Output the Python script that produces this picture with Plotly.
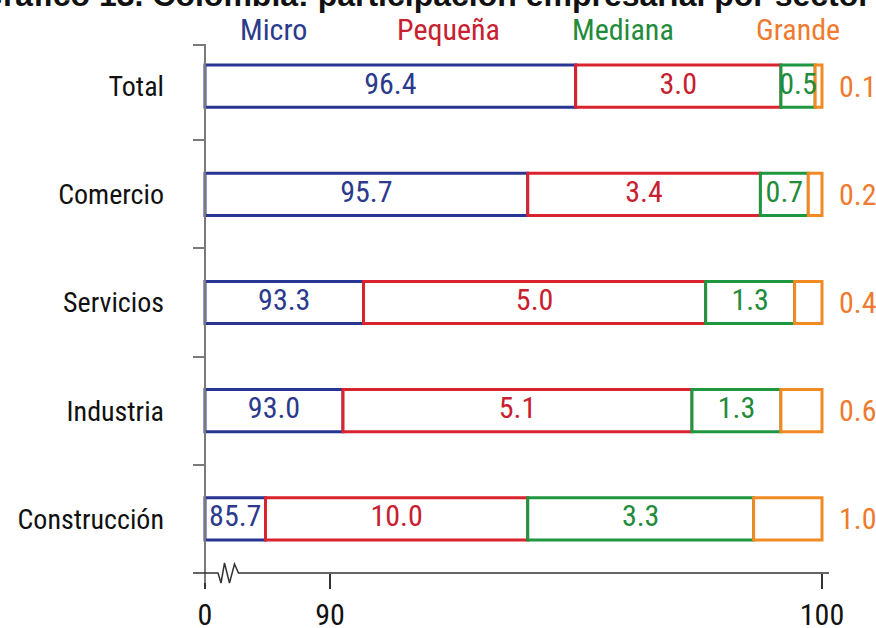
import numpy as np
import plotly.graph_objects as go

# ---- data -------------------------------------------------------------
sectors = ["Total", "Comercio", "Servicios", "Industria", "Construcción"]
micro = [96.4, 95.7, 93.3, 93.0, 85.7]
pequena = [3.0, 3.4, 5.0, 5.1, 10.0]
mediana = [0.5, 0.7, 1.3, 1.3, 3.3]
grande = [0.1, 0.2, 0.4, 0.6, 1.0]

size_names = ["Micro", "Pequeña", "Mediana", "Grande"]
tick_values = [0, 90, 100]
tick_labels = ["0", "90", "100"]

# ---- styling ------------------------------------------------------------
line_colors = ["#283593", "#D9232E", "#1F9640", "#F28A24"]
text_colors = ["#2B3A8C", "#C8202F", "#228B3B", "#EE7B30"]
FONT = "Liberation Sans Narrow, Arial Narrow, Roboto Condensed, sans-serif"
AX_GRAY = "#7a7a7a"

# Broken value axis: the span 0-90 is compressed, 93-100 is stretched.
BREAK_VALS = [0, 85, 90, 93, 100]
BREAK_POS = [0, 50, 125, 138, 617]


def scale(v):
    return np.interp(v, BREAK_VALS, BREAK_POS)


X_RANGE = [-12, 624]
W, H = 876, 628
ML, MR, MT, MB = 193, 47, 32, 55
PW, PH = W - ML - MR, H - MT - MB


def px_x(p):
    """pixel column -> paper x"""
    return (p - ML) / PW


def px_y(p):
    """pixel row -> paper y"""
    return (H - MB - p) / PH


series = [micro, pequena, mediana, grande]
ypos = list(range(len(sectors)))

fig = go.Figure()

start = np.zeros(len(sectors))
segments = []
for name, vals, lc in zip(size_names, series, line_colors):
    vals = np.array(vals)
    end = start + vals
    b = scale(start)
    e = scale(end)
    fig.add_trace(go.Bar(
        y=ypos, x=e - b, base=b, orientation="h", name=name,
        width=0.39,
        marker=dict(color="white", line=dict(color=lc, width=3)),
        hoverinfo="skip", showlegend=False,
    ))
    segments.append((b, e, vals))
    start = end

# value labels: first three sizes inside their segment, "Grande" to the right
for k, ((b, e, vals), tc) in enumerate(zip(segments, text_colors)):
    if k < 3:
        fig.add_trace(go.Scatter(
            x=(b + e) / 2, y=ypos, mode="text",
            text=[f"{v:.1f}" for v in vals],
            textfont=dict(family=FONT, size=30, color=tc),
            textposition="middle center",
            hoverinfo="skip", showlegend=False,
        ))
    else:
        for i, v in enumerate(vals):
            fig.add_annotation(
                x=scale(100), y=i, xref="x", yref="y",
                text=f"{v:.1f}", showarrow=False,
                xanchor="left", yanchor="middle", xshift=15,
                font=dict(family=FONT, size=30, color=tc),
            )

# legend row across the top
legend_x = [273, 448, 623, 798]
for name, tc, lx in zip(size_names, text_colors, legend_x):
    fig.add_annotation(
        x=px_x(lx), y=px_y(30), xref="paper", yref="paper",
        text=name, showarrow=False, xanchor="center", yanchor="middle",
        font=dict(family=FONT, size=30, color=tc),
    )

# heading (runs past the top edge of the page)
fig.add_annotation(
    x=px_x(-24), y=px_y(-5), xref="paper", yref="paper",
    text="<b>Gráfico 13. Colombia: participación empresarial por sector (%)</b>",
    showarrow=False, xanchor="left", yanchor="middle",
    font=dict(family="Liberation Sans, Arial, sans-serif", size=32, color="#111"),
)

# vertical axis line with a small cap at the top
x0 = px_x(ML + 12)
fig.add_shape(type="path", xref="paper", yref="paper",
              path=f"M {px_x(193)} {px_y(45)} L {x0} {px_y(45)} L {x0} {px_y(583)}",
              line=dict(color=AX_GRAY, width=2))

# horizontal axis line with a break marker
zig = [(193, 573), (218, 573), (221, 583), (224.5, 563), (229.5, 583),
       (234.5, 564), (238.5, 573), (829, 573)]
path = "M " + " L ".join(f"{px_x(a)} {px_y(c)}" for a, c in zig)
fig.add_shape(type="path", xref="paper", yref="paper", path=path,
              line=dict(color="#333", width=1.5))

fig.update_layout(
    width=W, height=H,
    margin=dict(l=ML, r=MR, t=MT, b=MB, autoexpand=False),
    paper_bgcolor="white", plot_bgcolor="white",
    barmode="overlay",
    xaxis=dict(
        range=X_RANGE, showgrid=False, zeroline=False, showline=False,
        automargin=False,
        tickvals=[float(scale(v)) for v in tick_values], ticktext=tick_labels,
        ticks="outside", ticklen=15, tickwidth=1.5, tickcolor="#333",
        tickfont=dict(family=FONT, size=30, color="#111"),
    ),
    yaxis=dict(
        range=[len(sectors) - 0.5, -0.5], showgrid=False, zeroline=False,
        showline=False, anchor="free", position=12 / PW, automargin=False,
        tickvals=ypos, ticktext=sectors, ticks="", ticklabelstandoff=41,
        tickfont=dict(family=FONT, size=28, color="#111"),
        minor=dict(tickvals=[i + 0.5 for i in ypos[:-1]], ticks="outside",
                   ticklen=12, tickwidth=2, tickcolor=AX_GRAY),
    ),
)

fig.write_html("out.html")
